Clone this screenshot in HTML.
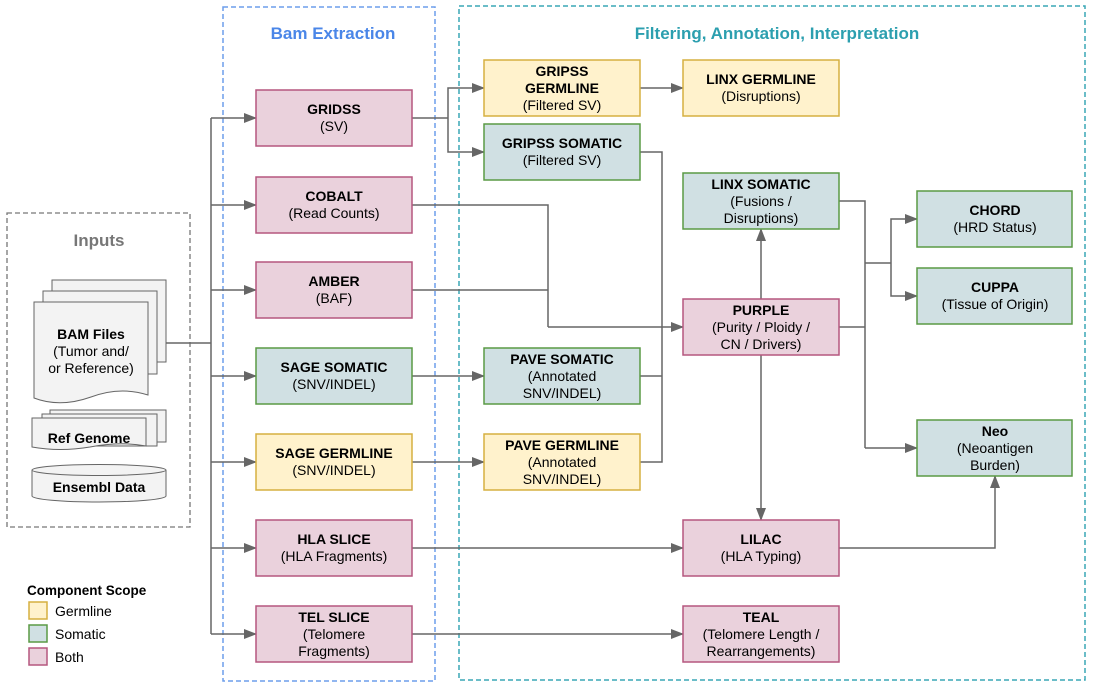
<!DOCTYPE html>
<html><head><meta charset="utf-8"><style>
html,body{margin:0;padding:0;background:#fff;}
svg{display:block;font-family:"Liberation Sans",Arial,sans-serif;}
.b{font-weight:bold;font-size:14px;fill:#000;}
.n{font-size:14px;fill:#000;}
.l{fill:none;stroke:#666;stroke-width:1.5;}
.P{fill:#ead1dc;stroke:#b5577f;stroke-width:1.5;}
.Y{fill:#fff2cc;stroke:#d6b040;stroke-width:1.5;}
.G{fill:#d0e0e3;stroke:#5a9a45;stroke-width:1.5;}
.doc{fill:#f3f3f3;stroke:#666;stroke-width:1;}
</style></head><body>
<svg width="1094" height="688" viewBox="0 0 1094 688" xmlns="http://www.w3.org/2000/svg">
<defs><marker id="a" markerWidth="13" markerHeight="10" refX="12" refY="5" orient="auto" markerUnits="userSpaceOnUse"><path d="M0,0 L13,5 L0,10 z" fill="#666"/></marker></defs>
<rect x="7" y="213" width="183" height="314" fill="none" stroke="#777" stroke-width="1.3" stroke-dasharray="5,3"/>
<rect x="223" y="7" width="212" height="674" fill="none" stroke="#6d9eeb" stroke-width="1.5" stroke-dasharray="5,3"/>
<rect x="459" y="6" width="626" height="674" fill="none" stroke="#3aa7b5" stroke-width="1.5" stroke-dasharray="5,3"/>
<text x="99" y="246" text-anchor="middle" font-size="17" font-weight="bold" fill="#777">Inputs</text>
<text x="333" y="39" text-anchor="middle" font-size="17" font-weight="bold" fill="#4a86e8">Bam Extraction</text>
<text x="777" y="39" text-anchor="middle" font-size="17" font-weight="bold" fill="#2c9faf">Filtering, Annotation, Interpretation</text>
<path class="doc" d="M52,280 H166 V362 H52 z"/>
<path class="doc" d="M43,291 H157 V374 H43 z"/>
<path class="doc" d="M34,302 H148 V395 Q120,386 91,397 Q60,408 34,398 z"/>
<text x="91" y="339" text-anchor="middle" class="b">BAM Files</text>
<text x="91" y="356" text-anchor="middle" class="n">(Tumor and/</text>
<text x="91" y="373" text-anchor="middle" class="n">or Reference)</text>
<path class="doc" d="M50,410 H166 V442 H50 z"/>
<path class="doc" d="M42,414 H157 V446 H42 z"/>
<path class="doc" d="M32,418 H146 V446 Q120,441 90,447 Q60,452 32,447 z"/>
<text x="89" y="443" text-anchor="middle" class="b">Ref Genome</text>
<path class="doc" d="M32,470 V496 A67,6 0 0 0 166,496 V470"/>
<ellipse class="doc" cx="99" cy="470" rx="67" ry="5.5"/>
<text x="99" y="492" text-anchor="middle" class="b">Ensembl Data</text>
<text x="27" y="595" font-size="13.5" font-weight="bold">Component Scope</text>
<rect x="29" y="602" width="18" height="17" class="Y"/><text x="55" y="616" class="n">Germline</text>
<rect x="29" y="625" width="18" height="17" class="G"/><text x="55" y="639" class="n">Somatic</text>
<rect x="29" y="648" width="18" height="17" class="P"/><text x="55" y="662" class="n">Both</text>
<path class="l" d="M166,343 H211"/>
<path class="l" d="M211,118 V634"/>
<path class="l" marker-end="url(#a)" d="M211,118 H256"/>
<path class="l" marker-end="url(#a)" d="M211,205 H256"/>
<path class="l" marker-end="url(#a)" d="M211,290 H256"/>
<path class="l" marker-end="url(#a)" d="M211,376 H256"/>
<path class="l" marker-end="url(#a)" d="M211,462 H256"/>
<path class="l" marker-end="url(#a)" d="M211,548 H256"/>
<path class="l" marker-end="url(#a)" d="M211,634 H256"/>
<path class="l" d="M412,118 H448"/>
<path class="l" marker-end="url(#a)" d="M448,118 V88 H484"/>
<path class="l" marker-end="url(#a)" d="M448,118 V152 H484"/>
<path class="l" marker-end="url(#a)" d="M640,88 H683"/>
<path class="l" d="M640,152 H662 V462 H640"/>
<path class="l" d="M640,376 H662"/>
<path class="l" d="M412,205 H548 V327"/>
<path class="l" d="M412,290 H548"/>
<path class="l" marker-end="url(#a)" d="M548,327 H683"/>
<path class="l" marker-end="url(#a)" d="M412,376 H484"/>
<path class="l" marker-end="url(#a)" d="M412,462 H484"/>
<path class="l" marker-end="url(#a)" d="M412,548 H683"/>
<path class="l" marker-end="url(#a)" d="M412,634 H683"/>
<path class="l" marker-end="url(#a)" d="M761,299 V229"/>
<path class="l" marker-end="url(#a)" d="M761,355 V520"/>
<path class="l" d="M839,201 H865 V448"/>
<path class="l" d="M839,327 H865"/>
<path class="l" marker-end="url(#a)" d="M865,448 H917"/>
<path class="l" d="M865,263 H891"/>
<path class="l" marker-end="url(#a)" d="M891,263 V219 H917"/>
<path class="l" marker-end="url(#a)" d="M891,263 V296 H917"/>
<path class="l" marker-end="url(#a)" d="M839,548 H995 V476"/>
<rect x="256" y="90" width="156" height="56" class="P"/>
<text x="334" y="114" text-anchor="middle" class="b">GRIDSS</text><text x="334" y="131" text-anchor="middle" class="n">(SV)</text>
<rect x="256" y="177" width="156" height="56" class="P"/>
<text x="334" y="201" text-anchor="middle" class="b">COBALT</text><text x="334" y="218" text-anchor="middle" class="n">(Read Counts)</text>
<rect x="256" y="262" width="156" height="56" class="P"/>
<text x="334" y="286" text-anchor="middle" class="b">AMBER</text><text x="334" y="303" text-anchor="middle" class="n">(BAF)</text>
<rect x="256" y="348" width="156" height="56" class="G"/>
<text x="334" y="372" text-anchor="middle" class="b">SAGE SOMATIC</text><text x="334" y="389" text-anchor="middle" class="n">(SNV/INDEL)</text>
<rect x="256" y="434" width="156" height="56" class="Y"/>
<text x="334" y="458" text-anchor="middle" class="b">SAGE GERMLINE</text><text x="334" y="475" text-anchor="middle" class="n">(SNV/INDEL)</text>
<rect x="256" y="520" width="156" height="56" class="P"/>
<text x="334" y="544" text-anchor="middle" class="b">HLA SLICE</text><text x="334" y="561" text-anchor="middle" class="n">(HLA Fragments)</text>
<rect x="256" y="606" width="156" height="56" class="P"/>
<text x="334" y="622" text-anchor="middle" class="b">TEL SLICE</text><text x="334" y="639" text-anchor="middle" class="n">(Telomere</text><text x="334" y="656" text-anchor="middle" class="n">Fragments)</text>
<rect x="484" y="60" width="156" height="56" class="Y"/>
<text x="562" y="76" text-anchor="middle" class="b">GRIPSS</text><text x="562" y="93" text-anchor="middle" class="b">GERMLINE</text><text x="562" y="110" text-anchor="middle" class="n">(Filtered SV)</text>
<rect x="484" y="124" width="156" height="56" class="G"/>
<text x="562" y="148" text-anchor="middle" class="b">GRIPSS SOMATIC</text><text x="562" y="165" text-anchor="middle" class="n">(Filtered SV)</text>
<rect x="484" y="348" width="156" height="56" class="G"/>
<text x="562" y="364" text-anchor="middle" class="b">PAVE SOMATIC</text><text x="562" y="381" text-anchor="middle" class="n">(Annotated</text><text x="562" y="398" text-anchor="middle" class="n">SNV/INDEL)</text>
<rect x="484" y="434" width="156" height="56" class="Y"/>
<text x="562" y="450" text-anchor="middle" class="b">PAVE GERMLINE</text><text x="562" y="467" text-anchor="middle" class="n">(Annotated</text><text x="562" y="484" text-anchor="middle" class="n">SNV/INDEL)</text>
<rect x="683" y="60" width="156" height="56" class="Y"/>
<text x="761" y="84" text-anchor="middle" class="b">LINX GERMLINE</text><text x="761" y="101" text-anchor="middle" class="n">(Disruptions)</text>
<rect x="683" y="173" width="156" height="56" class="G"/>
<text x="761" y="189" text-anchor="middle" class="b">LINX SOMATIC</text><text x="761" y="206" text-anchor="middle" class="n">(Fusions /</text><text x="761" y="223" text-anchor="middle" class="n">Disruptions)</text>
<rect x="683" y="299" width="156" height="56" class="P"/>
<text x="761" y="315" text-anchor="middle" class="b">PURPLE</text><text x="761" y="332" text-anchor="middle" class="n">(Purity / Ploidy /</text><text x="761" y="349" text-anchor="middle" class="n">CN / Drivers)</text>
<rect x="683" y="520" width="156" height="56" class="P"/>
<text x="761" y="544" text-anchor="middle" class="b">LILAC</text><text x="761" y="561" text-anchor="middle" class="n">(HLA Typing)</text>
<rect x="683" y="606" width="156" height="56" class="P"/>
<text x="761" y="622" text-anchor="middle" class="b">TEAL</text><text x="761" y="639" text-anchor="middle" class="n">(Telomere Length /</text><text x="761" y="656" text-anchor="middle" class="n">Rearrangements)</text>
<rect x="917" y="191" width="155" height="56" class="G"/>
<text x="995" y="215" text-anchor="middle" class="b">CHORD</text><text x="995" y="232" text-anchor="middle" class="n">(HRD Status)</text>
<rect x="917" y="268" width="155" height="56" class="G"/>
<text x="995" y="292" text-anchor="middle" class="b">CUPPA</text><text x="995" y="309" text-anchor="middle" class="n">(Tissue of Origin)</text>
<rect x="917" y="420" width="155" height="56" class="G"/>
<text x="995" y="436" text-anchor="middle" class="b">Neo</text><text x="995" y="453" text-anchor="middle" class="n">(Neoantigen</text><text x="995" y="470" text-anchor="middle" class="n">Burden)</text>
</svg>
</body></html>
